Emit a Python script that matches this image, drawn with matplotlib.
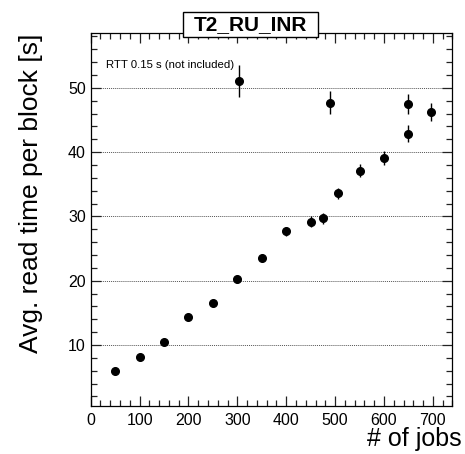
import matplotlib
matplotlib.use("Agg")
import matplotlib.pyplot as plt
from matplotlib.patches import Rectangle
from matplotlib.ticker import MultipleLocator

# average read time per block vs number of concurrent jobs
jobs = [50, 100, 150, 200, 250, 300, 303, 350, 400, 450, 475, 490, 505, 550, 600, 650, 650, 697]
read_time = [5.9, 8.2, 10.5, 14.3, 16.6, 20.2, 51.1, 23.6, 27.7, 29.2, 29.7, 47.7, 33.6, 37.1, 39.1, 42.9, 47.5, 46.2]
read_err = [0.3, 0.3, 0.3, 0.4, 0.4, 0.5, 2.5, 0.6, 0.7, 0.8, 0.8, 1.8, 0.9, 1.0, 1.1, 1.3, 1.5, 1.4]

site = "T2_RU_INR"
note = "RTT 0.15 s (not included)"

plt.rcParams["font.family"] = ["Liberation Sans", "DejaVu Sans"]

fig = plt.figure(figsize=(4.65, 4.54), dpi=100)
ax = fig.add_axes([0.195, 0.1064, 0.778, 0.8203])

ax.errorbar(jobs, read_time, yerr=read_err, fmt="o", color="black",
            markersize=5.5, elinewidth=1.0, capsize=0, zorder=3)

ax.set_xlim(0, 740)
ax.set_ylim(0.55, 58.5)

ax.xaxis.set_major_locator(MultipleLocator(100))
ax.xaxis.set_minor_locator(MultipleLocator(20))
ax.yaxis.set_major_locator(MultipleLocator(10))
ax.yaxis.set_minor_locator(MultipleLocator(2))
ax.tick_params(which="both", direction="in", top=True, right=True,
               labelsize=11.5, width=0.9, color="#222222")
ax.tick_params(which="major", length=7)
ax.tick_params(which="minor", length=4)
ax.tick_params(axis="x", pad=5)
for s in ax.spines.values():
    s.set_linewidth(0.9)

ax.yaxis.grid(True, which="major", linestyle=(0, (1, 1)), color="#555555", linewidth=0.7)
ax.set_axisbelow(True)

ax.set_xlabel("# of jobs", fontsize=18, loc="right")
ax.xaxis.set_label_coords(1.026, -0.058)
ax.set_ylabel("Avg. read time per block [s]", fontsize=19, loc="top", labelpad=18)

ax.text(31, 53.6, note, fontsize=8.2, va="center", ha="left")

# title pave on top of the frame
fig.add_artist(Rectangle((183 / 465, 1 - 37 / 454), 135 / 465, 25 / 454,
                         transform=fig.transFigure, facecolor="white",
                         edgecolor="black", linewidth=1.0, zorder=5))
fig.text(250.5 / 465, 1 - 24.5 / 454, site, fontsize=15, fontweight="bold",
         ha="center", va="center", zorder=6)

fig.savefig("out.png", dpi=100)
